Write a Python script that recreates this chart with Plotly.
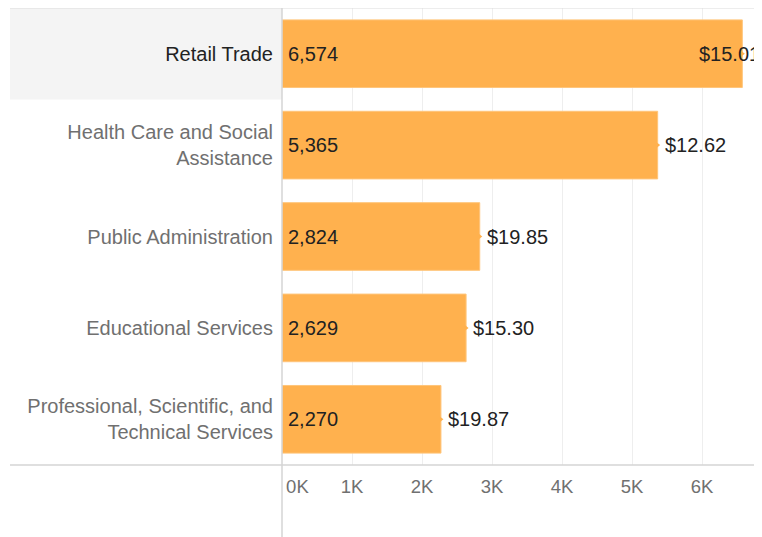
import plotly.graph_objects as go

industries = ["Retail Trade", "Health Care and Social<br>Assistance", "Public Administration",
              "Educational Services", "Professional, Scientific, and<br>Technical Services"]
employees = [6574, 5365, 2824, 2629, 2270]
wages = [15.01, 12.62, 19.85, 15.30, 19.87]
tick_vals = [0, 1000, 2000, 3000, 4000, 5000, 6000]
tick_text = ["\u00a0" * 6 + "0K", "1K", "2K", "3K", "4K", "5K", "6K"]

orange = "#FFB14E"
font = "Liberation Sans, Arial, sans-serif"
selected = 0  # highlighted row

labels = [f"<span style='color:#222222'>{s}</span>" if i == selected else s
          for i, s in enumerate(industries)]

fig = go.Figure()
fig.add_trace(go.Bar(
    x=employees, y=labels, orientation="h",
    marker=dict(color=orange, line=dict(color="#FFC57A", width=1)),
    width=0.74, hoverinfo="skip",
))
# little pointer at the end of each bar
fig.add_trace(go.Scatter(
    x=employees, y=labels, mode="markers",
    marker=dict(symbol="triangle-right", size=5, color=orange),
    hoverinfo="skip",
))

for i, (v, w) in enumerate(zip(employees, wages)):
    # employee count at the base of the bar
    fig.add_annotation(x=0, y=labels[i], text=f"{v:,}", showarrow=False,
                       xanchor="left", xshift=4, font=dict(family=font, size=20, color="#222222"))
    if v > 6000:
        fig.add_annotation(x=1, xref="paper", y=labels[i], text=f"${w:.2f}", showarrow=False,
                           xanchor="right", font=dict(family=font, size=20, color="#222222"))
    else:
        fig.add_annotation(x=v, y=labels[i], text=f"${w:.2f}", showarrow=False,
                           xanchor="left", xshift=5, font=dict(family=font, size=20, color="#222222"))

line_col = "#D4D4D4"
left = (10 - 282) / 480
fig.add_shape(type="rect", xref="paper", yref="y", x0=left, x1=0, y0=-0.5, y1=0.5,
              fillcolor="#F4F4F4", line_width=0, layer="below")
fig.add_shape(type="line", xref="paper", yref="paper", x0=left, x1=1, y0=1.001, y1=1.001,
              line=dict(color="#DCDCDC", width=2))
fig.add_shape(type="line", xref="paper", yref="paper", x0=left, x1=1, y0=0, y1=0,
              line=dict(color=line_col, width=1.5))
fig.add_shape(type="line", xref="paper", yref="paper", x0=0, x1=0, y0=-72 / 457, y1=1,
              line=dict(color=line_col, width=1.5))

fig.update_layout(
    width=754, height=529,
    margin=dict(l=274, r=0, t=0, b=72),
    paper_bgcolor="white", plot_bgcolor="white",
    showlegend=False, bargap=0.26,
    font=dict(family=font),
    xaxis=dict(range=[0, 6855], tickvals=tick_vals, ticktext=tick_text,
               showgrid=True, gridcolor="#EEEEEE", gridwidth=1, zeroline=False,
               tickfont=dict(size=18.5, color="#707070"), ticks="outside",
               ticklen=5, tickcolor="rgba(0,0,0,0)", fixedrange=True),
    yaxis=dict(autorange="reversed", showgrid=False, zeroline=False,
               tickfont=dict(size=20, color="#707070"), ticks="outside",
               ticklen=4, tickcolor="rgba(0,0,0,0)"),
)

fig.write_html("out.html")
